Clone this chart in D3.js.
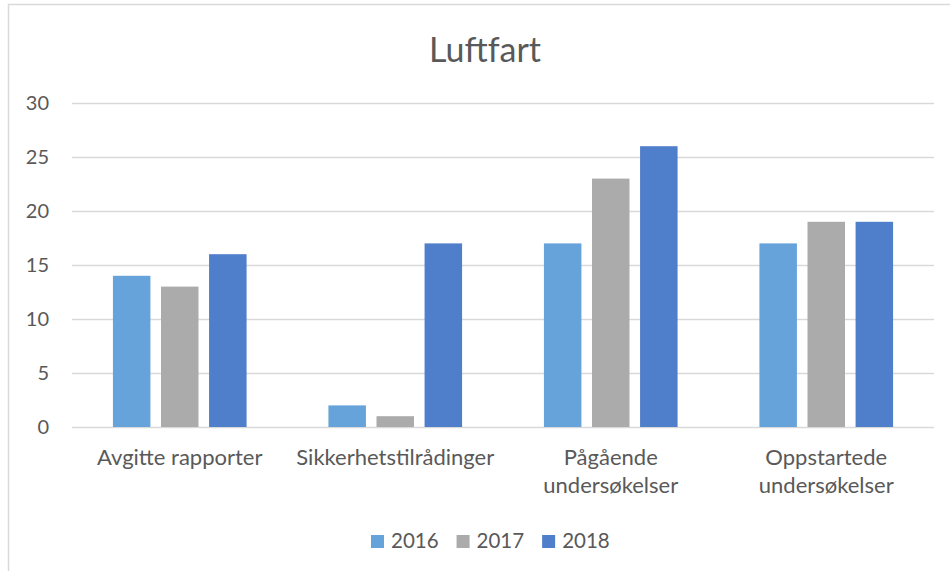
<!DOCTYPE html>
<html><head><meta charset="utf-8">
<script src="https://cdn.jsdelivr.net/npm/d3@7"></script>
<style>body{margin:0;background:#fff}svg{display:block}text{font-family:Lato,"Open Sans",sans-serif;fill:#595959}</style>
</head><body><div id="c"></div>
<script>
const title = "Luftfart";
const categories = [["Avgitte rapporter"],["Sikkerhetstilrådinger"],["Pågående","undersøkelser"],["Oppstartede","undersøkelser"]];
const seriesNames = ["2016","2017","2018"];
const values2016 = [14,2,17,17];
const values2017 = [13,1,23,19];
const values2018 = [16,17,26,19];
const yTicks = [0,5,10,15,20,25,30];
const colors = ["#67A3DB","#ABABAB","#4F7ECB"];
const seriesValues = [values2016, values2017, values2018];

const W=950,H=571;
const svg=d3.select("#c").append("svg").attr("width",W).attr("height",H);
svg.append("rect").attr("x",8.5).attr("y",4.5).attr("width",1000).attr("height",700).attr("fill","#fff").attr("stroke","#D9D9D9").attr("stroke-width",1.5);

const x0=d3.scaleBand().domain(d3.range(categories.length)).range([72,934]).paddingInner(0).paddingOuter(0);
const x1=d3.scaleBand().domain(seriesNames).range([0,x0.bandwidth()]).paddingInner(0.22).paddingOuter(0.851);
const y=d3.scaleLinear().domain([0,30]).range([427,103]);

const yAxis=d3.axisLeft(y).tickValues(yTicks).tickSize(-(934-72)).tickPadding(23);
const gy=svg.append("g").attr("transform","translate(72,0)").call(yAxis);
gy.select(".domain").remove();
gy.selectAll(".tick line").attr("stroke","#D9D9D9").attr("stroke-width",1.5);
gy.selectAll(".tick text").attr("font-size",20).attr("font-family","Lato").attr("fill","#595959");

const groups=svg.append("g").selectAll("g").data(categories).join("g").attr("transform",(d,i)=>`translate(${x0(i)},0)`);
groups.selectAll("rect").data((d,i)=>seriesNames.map((s,j)=>({s,v:seriesValues[j][i],j}))).join("rect")
 .attr("x",d=>x1(d.s)).attr("width",x1.bandwidth()).attr("y",d=>y(d.v)).attr("height",d=>y(0)-y(d.v)).attr("fill",d=>colors[d.j]);

const lab=svg.append("g").selectAll("text").data(categories).join("text")
 .attr("text-anchor","middle").attr("font-size",22).attr("x",(d,i)=>x0(i)+x0.bandwidth()/2).attr("y",465);
lab.selectAll("tspan").data(d=>d).join("tspan").attr("x",function(){return this.parentNode.getAttribute("x")}).attr("dy",(d,i)=>i?28:0).text(d=>d);

svg.append("text").attr("x",485).attr("y",62).attr("text-anchor","middle").attr("font-size",34).attr("font-weight",400).text(title);

const lg=svg.append("g");
let lx=371;
seriesNames.forEach((s,j)=>{
  lg.append("rect").attr("x",lx).attr("y",535).attr("width",13).attr("height",13).attr("fill",colors[j]);
  const t=lg.append("text").attr("x",lx+20).attr("y",548).attr("font-size",20.5).text(s);
  lx+=20+t.node().getComputedTextLength()+18;
});
</script></body></html>
